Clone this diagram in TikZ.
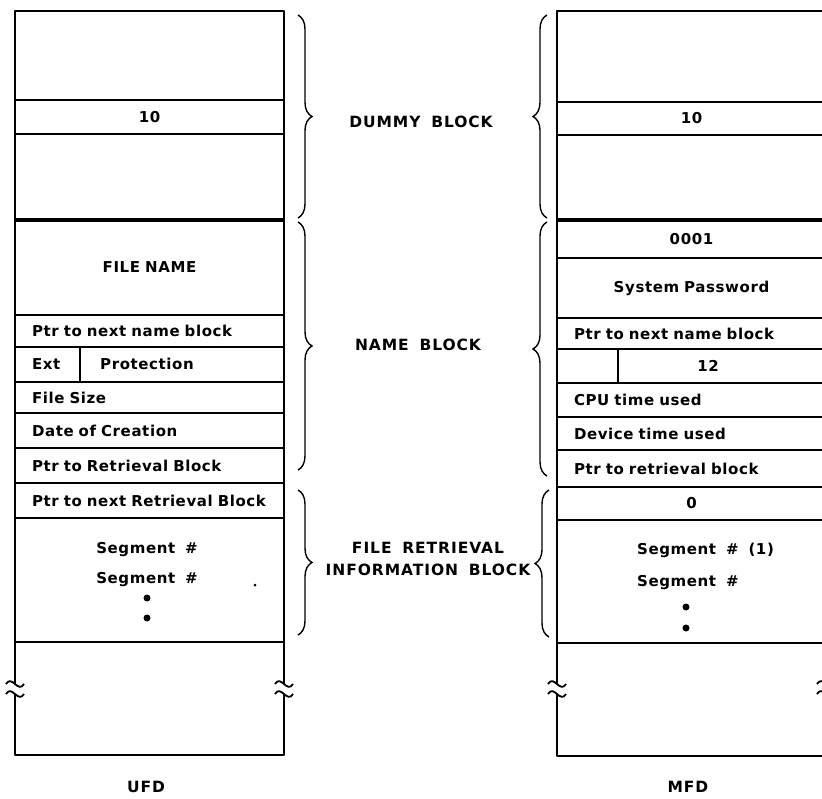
\documentclass[tikz,border=0pt]{standalone}
\usepackage{fontspec}
\setmainfont{DejaVu Sans}[LetterSpace=4,WordSpace=1.7]
\usepackage{tikz}
\usetikzlibrary{positioning,calc,decorations.pathreplacing}
\newcommand{\rowfont}{\fontsize{15}{18}\selectfont\bfseries}
\newcommand{\lblfont}{\fontsize{15.5}{22}\selectfont\bfseries\addfontfeature{LetterSpace=6}}
\newcommand{\wavebreak}[2]{%
  \draw[wave] (#1-9,#2-5) .. controls (#1-3,#2-15) and (#1+3,#2+5) .. (#1+9,#2-5);
  \draw[wave] (#1-9,#2+5) .. controls (#1-3,#2-5) and (#1+3,#2+15) .. (#1+9,#2+5);}
\tikzset{
    frame/.style={line width=2.8pt,line join=round},
    sep/.style={line width=3.8pt},
    cell/.style={draw,line width=1.8pt,anchor=north west,outer sep=0pt,minimum width=269pt,inner xsep=17pt,text width=235pt,inner ysep=0pt,font=\rowfont},
    lcell/.style={cell,align=left},
    ccell/.style={cell,align=center},
    txt/.style={font=\rowfont,inner sep=0pt},
    lbl/.style={font=\lblfont,align=center,inner sep=0pt},
    brc/.style={decorate,decoration={brace,amplitude=14pt},line width=1.4pt},
    dot/.style={circle,fill,inner sep=0pt,minimum size=7pt},
    wave/.style={line width=1.8pt},
}
\begin{document}
\begin{tikzpicture}[x=1pt,y=-1pt]
\useasboundingbox (0,0) rectangle (822,798);
\clip (0,0) rectangle (822,798);
% UFD
\node[ccell,minimum height=34pt] (uten)    at (15,100) {10};
\node[ccell,minimum height=95pt] (uname)   at (15,220) {FILE NAME};
\node[lcell,minimum height=32pt] (unext)   at (15,315) {Ptr to next name block};
\node[lcell,minimum height=35pt] (uext)    at (15,347) {Ext};
\node[lcell,minimum height=31pt] (usize)   at (15,382) {File Size};
\node[lcell,minimum height=35pt] (udate)   at (15,413) {Date of Creation};
\node[lcell,minimum height=35pt] (uret)    at (15,448) {Ptr to Retrieval Block};
\node[lcell,minimum height=35pt] (unxtret) at (15,483) {Ptr to next Retrieval Block};
\node[ccell,minimum height=124pt] (useg)   at (15,518) {};
\node[txt,anchor=base west] (uprot) at ($(uext.base west)+(85,0)$) {Protection};
\draw[line width=1.8pt] ($(uext.north west)+(65,0)$) -- ($(uext.south west)+(65,0)$);
\node[txt] (useg1) at (147,550) {Segment \#};
\node[txt] (useg2) at (147,580) {Segment \#};
\node[dot] (udot1) at (147,598) {};
\node[dot] (udot2) at (147,618) {};
\node[dot,minimum size=3pt] (uspeck) at (255,585) {};
\node[lbl] (ufd) at (146,787) {UFD};
\draw[sep] (uname.north west) -- (uname.north east);
\draw[frame] (15,684) -- (15,11) -- (284,11) -- (284,684);
\draw[frame] (15,694) -- (15,755) -- (284,755) -- (284,694);
\wavebreak{15}{689}
\wavebreak{284}{689}
% MFD
\node[ccell,minimum height=33pt] (mten)  at (557,102) {10};
\node[ccell,minimum height=38pt] (mnum)  at (557,220) {0001};
\node[ccell,minimum height=60pt] (mpass) at (557,258) {System Password};
\node[lcell,minimum height=31pt] (mnext) at (557,318) {Ptr to next name block};
\node[ccell,minimum height=34pt] (mtw)   at (557,349) {};
\node[lcell,minimum height=34pt] (mcpu)  at (557,383) {CPU time used};
\node[lcell,minimum height=33pt] (mdev)  at (557,417) {Device time used};
\node[lcell,minimum height=37pt] (mret)  at (557,450) {Ptr to retrieval block};
\node[ccell,minimum height=33pt] (mzero) at (557,487) {0};
\node[ccell,minimum height=123pt] (mseg) at (557,520) {};
\node[txt] (m12) at (708,366) {12};
\draw[line width=1.8pt] ($(mtw.north west)+(61,0)$) -- ($(mtw.south west)+(61,0)$);
\node[txt,anchor=west] (mseg1) at (637,550) {Segment \# (1)};
\node[txt,anchor=west] (mseg2) at (637,583) {Segment \#};
\node[dot] (mdot1) at (686,607) {};
\node[dot] (mdot2) at (686,628) {};
\node[lbl] (mfd) at (688,787) {MFD};
\draw[sep] (mnum.north west) -- (mnum.north east);
\draw[line width=2.8pt] (mzero.north west) -- (mzero.north east);
\draw[frame] (557,684) -- (557,11) -- (826,11) -- (826,684);
\draw[frame] (557,694) -- (557,756) -- (826,756) -- (826,694);
\wavebreak{557}{689}
\wavebreak{826}{689}
% braces and labels
\draw[brc] (298,15) -- (298,218);
\draw[brc] (298,222) -- (298,470);
\draw[brc] (298,490) -- (298,635);
\draw[brc] (547,218) -- (547,15);
\draw[brc] (547,476) -- (547,222);
\draw[brc] (549,637) -- (549,490);
\node[lbl] (dummy)   at (421,122) {DUMMY BLOCK};
\node[lbl] (nameblk) at (418,345) {NAME BLOCK};
\node[lbl] (retblk)  at (428,559) {FILE RETRIEVAL\\INFORMATION BLOCK};
\end{tikzpicture}
\end{document}
